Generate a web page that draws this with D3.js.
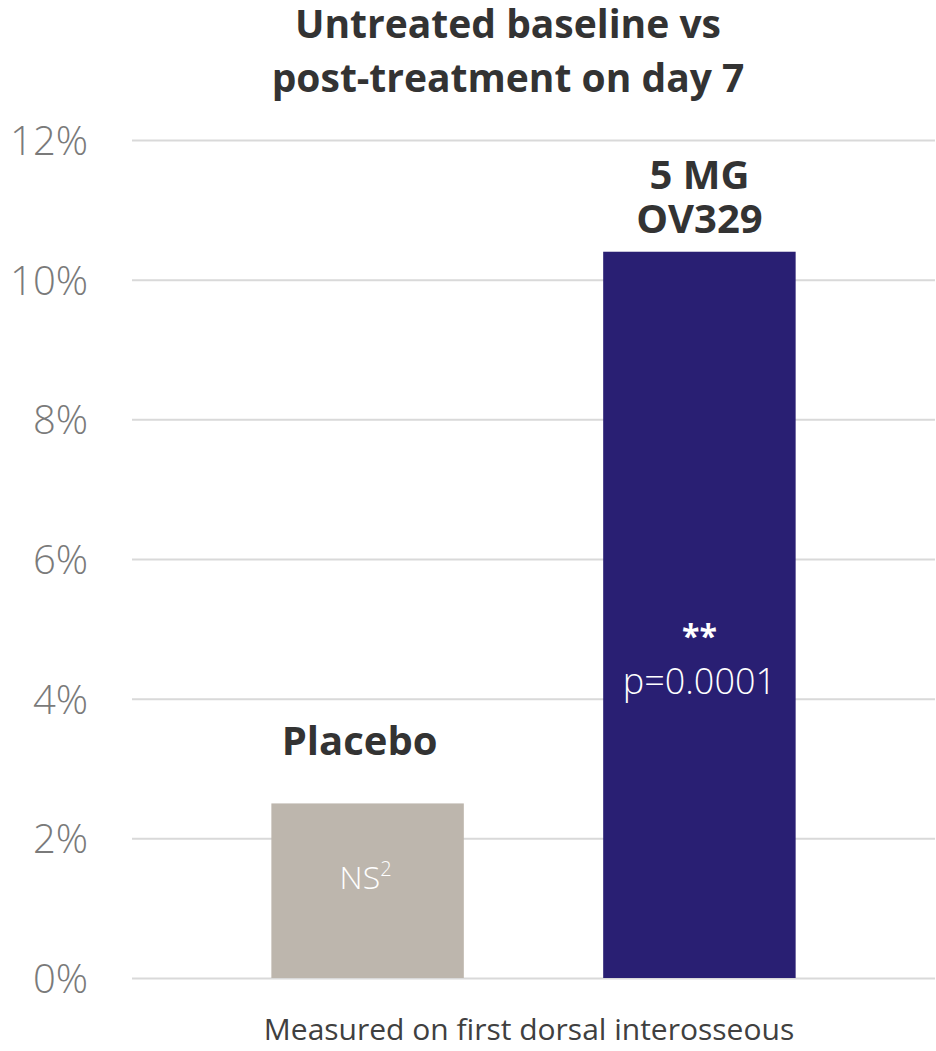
<!DOCTYPE html>
<meta charset="utf-8">
<style>
    body { margin: 0; background: #fff; }
    text { font-family: "Open Sans", "Noto Sans", sans-serif; }
</style>
<body>
<div id="chart"></div>

<script src="https://cdn.jsdelivr.net/npm/d3@7"></script>
<script>
    var width = 936,
        height = 1051

    // data
    var groups = ["Placebo", "5 MG OV329"]
    var values = [2.5, 10.4]
    var barLabels = [["Placebo"], ["5 MG", "OV329"]]
    var colors = ["#bdb6ad", "#291f73"]
    var yTicks = [0, 2, 4, 6, 8, 10, 12]
    var titleLines = ["Untreated baseline vs", "post-treatment on day 7"]
    var footnote = "Measured on first dorsal interosseous"

    var svg = d3.select('#chart').append("svg")
        .attr("width", width)
        .attr("height", height);

    var x = d3.scaleBand()
        .domain(groups)
        .range([132, 935])
        .paddingInner(0.42)
        .paddingOuter(0.42)

    var y = d3.scaleLinear()
        .domain([0, 12])
        .range([978, 140])

    // gridlines + tick labels
    var yAxis = svg.append("g")
        .attr("transform", "translate(132,0)")
        .call(d3.axisLeft(y)
            .tickValues(yTicks)
            .tickSize(-803)
            .tickPadding(44)
            .tickFormat(function (d) { return d + "%" }))

    yAxis.select(".domain").remove()
    yAxis.selectAll(".tick line")
        .attr("stroke", "#d9d9d9")
        .attr("stroke-width", 2)
    yAxis.selectAll(".tick text")
        .attr("fill", "#7a7a7a")
        .style("font-family", "'Open Sans', sans-serif")
        .style("font-size", "40px")
        .style("font-weight", 300)
        .attr("dy", "0.36em")

    // labels above bars (gap above bar top differs per bar in the original)
    var labelGap = [48, 19]
    groups.forEach(function (g, i) {
        var lines = barLabels[i]
        var cx = i == 0 ? x(g) + x.bandwidth() / 2 - 8 : x(g) + x.bandwidth() / 2
        var top = y(values[i])
        var lbl = svg.append("text")
            .attr("x", cx)
            .attr("y", top - labelGap[i] - (lines.length - 1) * 44)
            .attr("text-anchor", "middle")
            .attr("fill", "#333")
            .style("font-size", "40px")
            .style("font-weight", "bold")
        lines.forEach(function (line, j) {
            lbl.append("tspan")
                .attr("x", cx)
                .attr("dy", j == 0 ? 0 : 44)
                .text(line)
        })
    })

    // bars
    svg.selectAll(".bar")
        .data(groups)
        .enter().append("rect")
        .attr("class", "bar")
        .attr("x", function (d) { return x(d) })
        .attr("width", x.bandwidth())
        .attr("y", function (d, i) { return y(values[i]) })
        .attr("height", function (d, i) { return y(0) - y(values[i]) })
        .attr("fill", function (d, i) { return colors[i] });

    // text inside bars
    var pc = x(groups[0]) + x.bandwidth() / 2
    var ns = svg.append("text")
        .attr("x", pc - 2)
        .attr("y", 889)
        .attr("text-anchor", "middle")
        .attr("fill", "#fff")
        .style("font-size", "32px")
        .style("font-weight", 300)
    ns.append("tspan").text("NS")
    ns.append("tspan")
        .attr("dy", -13)
        .style("font-size", "20px")
        .text("2")

    var oc = x(groups[1]) + x.bandwidth() / 2
    svg.append("text")
        .attr("x", oc)
        .attr("y", 648)
        .attr("text-anchor", "middle")
        .attr("fill", "#fff")
        .style("font-size", "32px")
        .style("font-weight", "bold")
        .text("**")
    svg.append("text")
        .attr("x", oc)
        .attr("y", 694)
        .attr("text-anchor", "middle")
        .attr("fill", "#fff")
        .style("font-size", "36px")
        .style("font-weight", 300)
        .text("p=0.0001")

    // title
    var title = svg.append("text")
        .attr("x", 508)
        .attr("y", 38)
        .attr("text-anchor", "middle")
        .attr("fill", "#333")
        .style("font-size", "39px")
        .style("font-weight", "bold")
    titleLines.forEach(function (t, i) {
        title.append("tspan")
            .attr("x", 508)
            .attr("dy", i == 0 ? 0 : 54)
            .text(t)
    })

    svg.append("text")
        .attr("x", 529)
        .attr("y", 1040)
        .attr("text-anchor", "middle")
        .attr("fill", "#404040")
        .style("font-size", "30px")
        .text(footnote)
</script>
